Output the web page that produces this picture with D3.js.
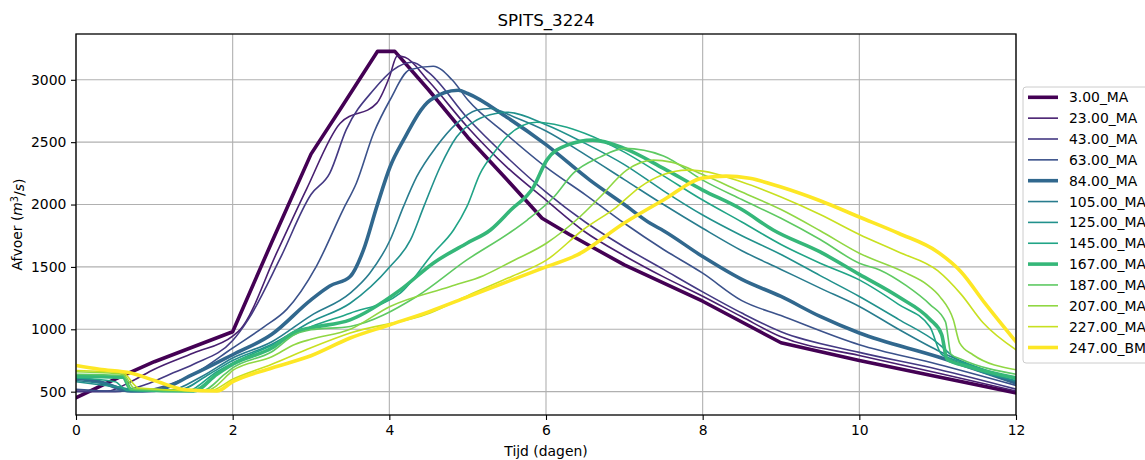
<!DOCTYPE html>
<html>
<head>
<meta charset="utf-8">
<script src="https://cdn.jsdelivr.net/npm/d3@7"></script>
<style>
body { margin: 0; background: #fff; }
text { font-family: "DejaVu Sans", sans-serif; }
</style>
</head>
<body>
<div class="chart"></div>
<script>
// series names (legend order)
var seriesNames = ["3.00_MA","23.00_MA","43.00_MA","63.00_MA","84.00_MA","105.00_MA","125.00_MA",
    "145.00_MA","167.00_MA","187.00_MA","207.00_MA","227.00_MA","247.00_BM"];

// [tijd (dagen), afvoer (m3/s)]
var q3 = [[0,452],[0.5,600],[1,740],[1.5,860],[2,980],[2.5,1700],[3,2404],[3.4,2790],[3.85,3228],[4.07,3228],
    [4.5,2920],[5,2540],[5.5,2200],[5.95,1890],[6.3,1760],[7,1516],[8,1225],[9,892],[10,750],[11,620],[12,490]];
var q23 = [[0,505],[0.4,505],[0.7,580],[1,680],[1.5,810],[2,945],[2.1,1000],[2.56,1610],[2.94,2120],[3.37,2650],
    [3.84,2813],[4,3020],[4.1,3190],[4.2,3180],[4.5,2990],[5,2620],[5.5,2300],[6,2036],[6.5,1780],[7,1590],
    [7.5,1420],[8,1265],[8.5,1100],[9,940],[10,790],[11,650],[12,505]];
var q43 = [[0,500],[0.5,500],[0.9,560],[1.2,640],[1.5,720],[2,910],[2.2,1080],[2.6,1560],[3,2080],[3.24,2252],
    [3.45,2600],[3.8,2920],[4.05,3080],[4.29,3140],[4.5,3060],[5,2692],[5.5,2380],[6,2100],[6.5,1860],[7,1660],
    [7.5,1480],[8,1300],[8.5,1130],[9,980],[10,815],[11,680],[12,520]];
var q63 = [[0,520],[0.5,505],[0.8,505],[1.2,560],[1.5,640],[2,850],[2.4,1020],[2.69,1160],[3.07,1507],[3.41,1960],
    [3.58,2173],[3.8,2573],[4.01,2840],[4.26,3080],[4.56,3108],[4.8,3000],[5,2840],[5.5,2560],[6,2300],[6.5,2080],
    [7,1850],[7.5,1640],[8,1450],[8.5,1230],[9,1110],[10,876],[11,720],[12,550]];
var q84 = [[0,610],[0.3,580],[0.7,505],[1,510],[1.5,640],[2,796],[2.5,960],[3,1236],[3.24,1347],[3.5,1423],
    [3.67,1636],[3.84,1983],[4.01,2303],[4.18,2516],[4.52,2836],[4.88,2916],[5,2890],[5.5,2700],[6,2480],
    [6.56,2196],[7,2000],[7.33,1850],[7.5,1790],[8,1583],[8.5,1400],[9,1263],[9.5,1103],[10,970],[11,780],[12,570]];
var q105 = [[0,590],[0.4,560],[0.8,505],[1.2,510],[1.6,620],[2,770],[2.5,900],[3,1110],[3.5,1290],[3.75,1450],
    [4.01,1716],[4.18,1983],[4.35,2223],[4.6,2463],[4.86,2650],[5.11,2756],[5.29,2770],[5.6,2700],[6,2590],
    [6.5,2400],[7,2200],[7.5,2000],[8,1810],[8.5,1630],[9,1480],[9.5,1330],[10,1183],[10.5,1000],[11,830],[12,580]];
var q125 = [[0,580],[0.5,540],[0.9,505],[1.3,510],[1.7,640],[2,750],[2.5,880],[3,1060],[3.5,1209],[4.01,1503],
    [4.27,1716],[4.44,1983],[4.65,2303],[4.86,2543],[5.11,2676],[5.36,2730],[5.5,2740],[6,2640],[6.5,2490],
    [7,2320],[7.5,2110],[8,1916],[8.5,1750],[9,1600],[9.5,1430],[10,1263],[10.5,1080],[11,890],[11.2,780],[12,590]];
var q145 = [[0,610],[0.5,580],[0.65,510],[1.4,505],[1.8,660],[2,730],[2.5,870],[3,1020],[3.5,1129],[4.14,1290],
    [4.56,1610],[4.82,1796],[4.99,1983],[5.16,2250],[5.33,2410],[5.5,2543],[5.88,2660],[6.2,2630],[6.5,2570],
    [7,2420],[7.5,2230],[8,2036],[8.5,1860],[9,1680],[9.5,1530],[10,1396],[10.5,1200],[10.9,1020],[11.05,800],
    [11.3,740],[12,600]];
var q167 = [[0,625],[0.6,615],[0.7,520],[1.5,505],[1.8,640],[2,720],[2.5,850],[2.8,980],[3,1012],[3.5,1076],
    [4.14,1316],[4.56,1530],[4.99,1690],[5.29,1796],[5.55,1956],[5.84,2140],[6.01,2356],[6.27,2476],[6.6,2516],
    [7,2450],[7.5,2290],[8,2116],[8.5,1960],[8.9,1796],[9.5,1620],[10,1440],[10.5,1260],[10.9,1080],[11.05,960],
    [11.12,760],[11.4,700],[12,610]];
var q187 = [[0,640],[0.6,630],[0.7,520],[1.6,505],[1.9,640],[2,690],[2.5,820],[2.8,960],[3,996],[3.5,1023],
    [4.35,1263],[4.99,1556],[5.55,1780],[5.76,1876],[6.1,2060],[6.35,2252],[6.69,2380],[7,2450],[7.5,2390],
    [8,2196],[8.5,2040],[9,1890],[9.5,1720],[10,1530],[10.26,1476],[10.6,1350],[10.9,1200],[11.1,1060],
    [11.17,800],[11.3,760],[12,640]];
var q207 = [[0,660],[0.6,640],[0.75,525],[1.65,505],[1.95,640],[2,670],[2.5,780],[2.8,880],[3,920],[3.5,1000],
    [4.01,1183],[4.78,1343],[5.2,1430],[5.55,1540],[6.01,1692],[6.43,1900],[6.69,2060],[7.03,2276],[7.37,2356],
    [7.6,2340],[8,2240],[8.5,2100],[9,1960],[9.5,1790],[10,1610],[10.6,1450],[10.86,1360],[11.03,1260],
    [11.2,1076],[11.28,892],[11.45,796],[12,676]];
var q227 = [[0,670],[0.6,650],[0.8,530],[1.7,505],[2,600],[2.5,720],[3,852],[3.5,970],[4.52,1130],[5,1270],
    [5.55,1420],[6.01,1556],[6.47,1796],[6.9,1980],[7.2,2140],[7.5,2240],[7.8,2276],[8,2268],[8.5,2180],
    [9,2060],[9.5,1920],[10,1760],[10.5,1620],[11,1470],[11.3,1280],[11.58,1052],[12,836]];
var q247 = [[0,710],[0.3,680],[0.7,650],[1,590],[1.4,515],[1.8,505],[2,580],[2.5,690],[3,788],[3.5,930],
    [4,1035],[4.5,1140],[5,1260],[5.5,1380],[6,1500],[6.4,1596],[7,1852],[7.5,2036],[8,2212],[8.3,2228],
    [8.6,2210],[9,2140],[9.5,2030],[10,1900],[10.5,1770],[11,1620],[11.3,1460],[11.6,1212],[12,900]];

var seriesData = [q3,q23,q43,q63,q84,q105,q125,q145,q167,q187,q207,q227,q247];

var xTicks = [0,2,4,6,8,10,12];
var yTicks = [500,1000,1500,2000,2500,3000];

// these get the heavy line
var thickNames = ["3.00_MA","84.00_MA","167.00_MA","247.00_BM"];

// set the dimensions and margins of the graph
var margin = {top: 34, right: 129, bottom: 45, left: 76},
    width = 1145 - margin.left - margin.right,
    height = 460 - margin.top - margin.bottom;

var x = d3.scaleLinear().domain([0,12]).range([0, width]);
var y = d3.scaleLinear().domain([313,3367]).range([height, 0]);

var color = function(i){ return d3.interpolateViridis(i / (seriesNames.length - 1)); };

var svg = d3.select(".chart").append("svg")
    .attr("width", 1145)
    .attr("height", 460);

var g = svg.append("g")
    .attr("transform", "translate(" + margin.left + "," + margin.top + ")");

g.append("clipPath").attr("id", "clip")
    .append("rect").attr("width", width).attr("height", height);

// grid
g.selectAll(".gx").data(xTicks).enter().append("line")
    .attr("x1", function(d){ return x(d); }).attr("x2", function(d){ return x(d); })
    .attr("y1", 0).attr("y2", height)
    .attr("stroke", "#b0b0b0").attr("stroke-width", 1.1);
g.selectAll(".gy").data(yTicks).enter().append("line")
    .attr("x1", 0).attr("x2", width)
    .attr("y1", function(d){ return y(d); }).attr("y2", function(d){ return y(d); })
    .attr("stroke", "#b0b0b0").attr("stroke-width", 1.1);

// the lines (the 3.00 run is made of straight pieces, the rest are smooth)
var straightline = d3.line()
    .x(function(d){ return x(d[0]); })
    .y(function(d){ return y(d[1]); });
var valueline = d3.line()
    .curve(d3.curveMonotoneX)
    .x(function(d){ return x(d[0]); })
    .y(function(d){ return y(d[1]); });

var lines = g.append("g").attr("clip-path", "url(#clip)");
seriesData.forEach(function(s, i){
    lines.append("path")
        .attr("d", i === 0 ? straightline(s) : valueline(s))
        .attr("fill", "none")
        .attr("stroke", color(i))
        .attr("stroke-width", thickNames.indexOf(seriesNames[i]) >= 0 ? 3.6 : 1.6)
        .attr("stroke-linejoin", "round")
        .attr("stroke-linecap", "square");
});

// axes
var xAxis = d3.axisBottom(x).tickValues(xTicks).tickSize(5).tickPadding(4.7).tickSizeOuter(0);
var yAxis = d3.axisLeft(y).tickValues(yTicks).tickFormat(d3.format("d"))
    .tickSize(5).tickPadding(4.7).tickSizeOuter(0);

var gx = g.append("g").attr("transform", "translate(0," + height + ")").call(xAxis);
var gy = g.append("g").call(yAxis);
[gx, gy].forEach(function(a){
    a.select(".domain").remove();
    a.selectAll("line").attr("stroke", "#000").attr("stroke-width", 1.1);
    a.selectAll("text").attr("fill", "#000").style("font-size", "13.9px")
        .style("font-family", "'DejaVu Sans', sans-serif");
});

// frame
g.append("rect")
    .attr("width", width).attr("height", height)
    .attr("fill", "none").attr("stroke", "#000").attr("stroke-width", 1.3);

// title and axis texts
svg.append("text")
    .text("SPITS_3224")
    .attr("x", margin.left + width / 2).attr("y", 26)
    .attr("text-anchor", "middle")
    .style("font-size", "16.7px");

svg.append("text")
    .text("Tijd (dagen)")
    .attr("x", margin.left + width / 2).attr("y", 456)
    .attr("text-anchor", "middle")
    .style("font-size", "13.9px");

var ylab = svg.append("text")
    .attr("transform", "translate(22," + (margin.top + height / 2) + ") rotate(-90)")
    .attr("text-anchor", "middle")
    .style("font-size", "13.9px");
ylab.append("tspan").text("Afvoer (");
ylab.append("tspan").text("m").style("font-style", "italic");
ylab.append("tspan").text("3").attr("dy", "-0.45em").style("font-size", "9.7px");
ylab.append("tspan").text("/").attr("dy", "0.45em");
ylab.append("tspan").text("s").style("font-style", "italic");
ylab.append("tspan").text(")");

// legend
var legend = svg.append("g").attr("transform", "translate(1023,87)");
legend.append("rect")
    .attr("width", 140).attr("height", 276)
    .attr("rx", 3)
    .attr("fill", "#fff").attr("fill-opacity", 0.8)
    .attr("stroke", "#cccccc").attr("stroke-width", 1);

seriesNames.forEach(function(name, i){
    var ly = 10.3 + i * 20.85;
    legend.append("line")
        .attr("x1", 5).attr("x2", 35)
        .attr("y1", ly).attr("y2", ly)
        .attr("stroke", color(i))
        .attr("stroke-width", thickNames.indexOf(name) >= 0 ? 3.6 : 1.6);
    legend.append("text")
        .text(name)
        .attr("x", 46).attr("y", ly + 5)
        .style("font-size", "13.9px");
});
</script>
</body>
</html>
